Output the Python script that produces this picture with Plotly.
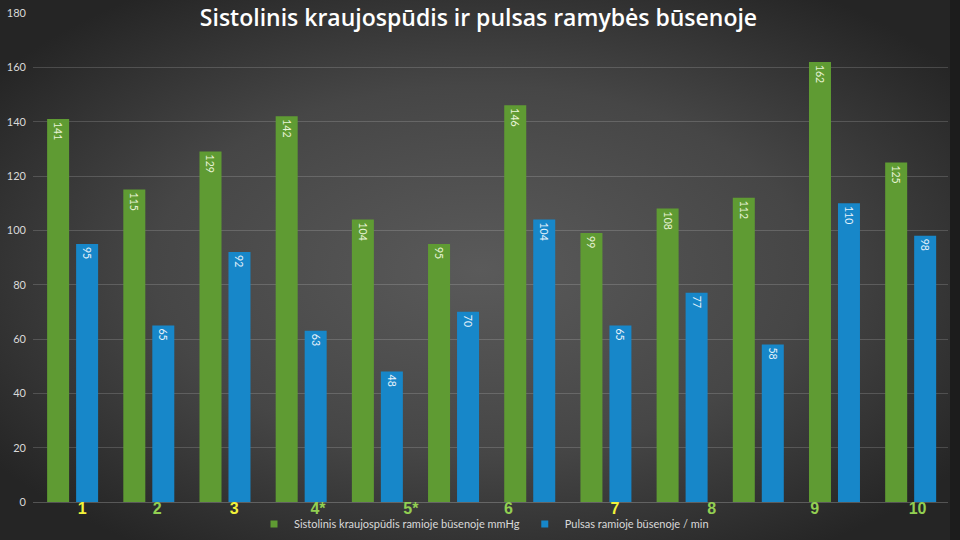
import base64
import plotly.graph_objects as go

# ---- data ----
groups = list(range(1, 13))
systolic = [141, 115, 129, 142, 104, 95, 146, 99, 108, 112, 162, 125]
pulse = [95, 65, 92, 63, 48, 70, 104, 65, 77, 58, 110, 98]
tick_labels = ["1", "2", "3", "4*", "5*", "6", "7", "8", "9", "10"]
tick_pos = [1.125, 2.11, 3.12, 4.22, 5.44, 6.72, 8.12, 9.39, 10.74, 12.09]
tick_colors = ["#f2f23a", "#92cf52", "#f2f23a", "#92cf52", "#92cf52",
               "#92cf52", "#f2f23a", "#92cf52", "#92cf52", "#92cf52"]
y_ticks = list(range(0, 181, 20))

name_sys = "Sistolinis kraujospūdis ramioje būsenoje mmHg"
name_pulse = "Pulsas ramioje būsenoje / min"
title = "Sistolinis kraujospūdis ir pulsas ramybės būsenoje"

GREEN = "#5f9b33"
BLUE = "#1787c9"

# background radial gradient (svg data uri)
svg = (
    "<svg xmlns='http://www.w3.org/2000/svg' width='960' height='540' viewBox='0 0 960 540' preserveAspectRatio='none'>"
    "<defs><radialGradient id='g' cx='50%' cy='50%' r='62%'>"
    "<stop offset='0%' stop-color='#5a5a5a'/>"
    "<stop offset='55%' stop-color='#464646'/>"
    "<stop offset='100%' stop-color='#252525'/>"
    "</radialGradient></defs>"
    "<rect width='960' height='540' fill='url(#g)'/>"
    "<rect x='950' width='10' height='540' fill='#1c1c1c'/>"
    "</svg>"
)
bg_uri = "data:image/svg+xml;base64," + base64.b64encode(svg.encode()).decode()

L, R, T, B = 33, 12, 13, 38
W, H = 960, 540
pw, ph = W - L - R, H - T - B

fig = go.Figure()
fig.add_trace(go.Bar(
    x=groups, y=systolic, name=name_sys, marker_color=GREEN, marker_line_width=0,
    text=[str(v) for v in systolic], textposition="inside", insidetextanchor="end",
    textangle=90, textfont=dict(size=10.5, color="#e8f3d6", family="Lato"),
    showlegend=False, constraintext="none",
))
fig.add_trace(go.Bar(
    x=groups, y=pulse, name=name_pulse, marker_color=BLUE, marker_line_width=0,
    text=[str(v) for v in pulse], textposition="inside", insidetextanchor="end",
    textangle=90, textfont=dict(size=10.5, color="#e6f2fb", family="Lato"),
    showlegend=False, constraintext="none",
))
# legend entries with small square markers
for nm, col in [(name_sys, GREEN), (name_pulse, BLUE)]:
    fig.add_trace(go.Scatter(
        x=[None], y=[None], mode="markers", name=nm,
        marker=dict(symbol="square", size=7, color=col), showlegend=True,
    ))

fig.update_layout(
    width=W, height=H,
    margin=dict(l=L, r=R, t=T, b=B, autoexpand=False),
    paper_bgcolor="#333333",
    plot_bgcolor="rgba(0,0,0,0)",
    barmode="group", bargap=0.239, bargroupgap=0.241,
    font=dict(family="Lato", color="#d9d9d9", size=11),
    title=dict(text=title, x=478.5 / W, xanchor="center", y=1 - 18 / H, yanchor="middle",
               font=dict(family="Open Sans", size=23, color="#ffffff", weight=600)),
    legend=dict(orientation="h", x=(484 - L) / pw, xanchor="center", y=-(524 - (H - B)) / ph,
                yanchor="middle", font=dict(size=11, color="#d9d9d9", family="Lato"),
                itemwidth=30, tracegroupgap=0, bgcolor="rgba(0,0,0,0)"),
    images=[dict(source=bg_uri, xref="paper", yref="paper",
                 x=-L / pw, y=1 + T / ph, sizex=W / pw, sizey=H / ph,
                 sizing="stretch", layer="below", xanchor="left", yanchor="top")],
    xaxis=dict(range=[0.48, 12.49], showgrid=False, zeroline=False, showline=False,
               automargin=False,
               tickmode="array", tickvals=tick_pos,
               ticktext=[f"<span style='color:{c}'>{t}</span>" for t, c in zip(tick_labels, tick_colors)],
               tickfont=dict(family="Liberation Sans", size=16, weight="bold"),
               ticks="", ticklabelstandoff=-5),
    yaxis=dict(range=[0, 180], tickmode="array", tickvals=y_ticks, automargin=False,
               showgrid=True, gridcolor="rgba(255,255,255,0.16)", gridwidth=1,
               zeroline=True, zerolinecolor="rgba(255,255,255,0.22)", zerolinewidth=1,
               ticks="", ticklabelstandoff=6, tickfont=dict(size=11, color="#d9d9d9")),
)

fig.write_html(
    "out.html",
    config={"displayModeBar": False},
    post_script="document.body.style.margin='0';document.body.style.background='#333333';",
)
